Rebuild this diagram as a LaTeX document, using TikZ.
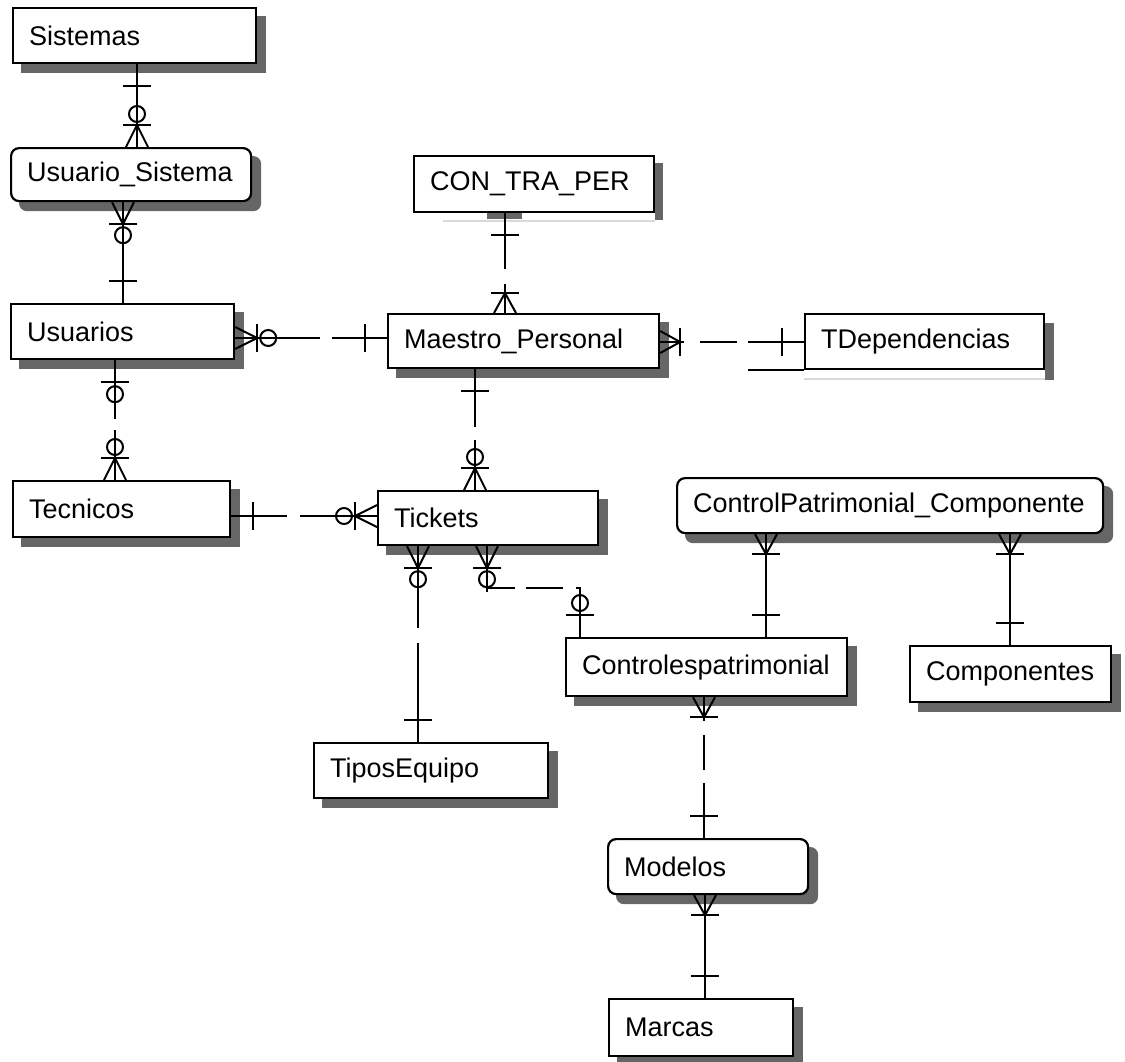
\documentclass[tikz,border=0pt]{standalone}
\usepackage{fontspec}
\setmainfont{Liberation Sans}
\usetikzlibrary{backgrounds}

\tikzset{
  rel/.style={line width=1pt},
  ent/.style={draw, line width=1.1pt, fill=white, anchor=north west,
    inner xsep=8pt, inner ysep=0pt, align=left,
    font=\fontsize{13.5pt}{16pt}\selectfont},
  dep/.style={ent, rounded corners=4pt},
  shd/.style={fill=black!60},
  % cardinality marks, drawn pointing away from the entity
  pics/one/.style={code={
    \draw[rel] (0,0) -- (30,0);
    \draw[rel] (22,-14) -- (22,14);}},
  pics/zeroone/.style={code={
    \draw[rel] (0,0) -- (44,0);
    \draw[rel] (22,-14) -- (22,14);
    \draw[rel] (34,0) circle[radius=4pt];}},
  pics/onemany/.style={code={
    \draw[rel] (0,-11) -- (20,0) -- (0,11);
    \draw[rel] (0,0) -- (24,0);
    \draw[rel] (20,-14) -- (20,14);}},
  pics/zeromany/.style={code={
    \draw[rel] (0,-11) -- (22,0) -- (0,11);
    \draw[rel] (0,0) -- (46,0);
    \draw[rel] (22,-14) -- (22,14);
    \draw[rel] (33,0) circle[radius=4pt];}},
}

\begin{document}
\begin{tikzpicture}[x=0.5pt,y=-0.5pt]
\useasboundingbox (0,0) rectangle (1125,1061);

% entities
\node[ent, text width=105.5pt, minimum height=27.5pt] (Sistemas) at (12,7) {Sistemas};
\node[dep, text width=104pt, minimum height=26.5pt] (UsuSis) at (10,147) {Usuario\_Sistema};
\node[ent, text width=104pt, minimum height=28pt] (CTP) at (413,155) {CON\_TRA\_PER};
\node[ent, text width=95.5pt, minimum height=27.5pt] (Usuarios) at (10,303) {Usuarios};
\node[ent, text width=119.5pt, minimum height=27pt] (Maestro) at (387,313) {Maestro\_Personal};
\node[ent, text width=103.5pt, minimum height=27.5pt] (TDep) at (804,313) {TDependencias};
\node[ent, text width=92.5pt, minimum height=28pt] (Tecnicos) at (12,480) {Tecnicos};
\node[ent, text width=94pt, minimum height=27pt] (Tickets) at (377,490) {Tickets};
\node[dep, text width=197pt, minimum height=27.5pt] (CPC) at (676,477) {ControlPatrimonial\_Componente};
\node[ent, text width=124.5pt, minimum height=29pt] (Controlesp) at (565,637) {Controlespatrimonial};
\node[ent, text width=84.5pt, minimum height=28pt] (Componentes) at (909,645) {Componentes};
\node[ent, text width=101pt, minimum height=27.5pt] (TiposEquipo) at (313,742) {TiposEquipo};
\node[dep, text width=84pt, minimum height=27.5pt] (Modelos) at (607,838) {Modelos};
\node[ent, text width=76pt, minimum height=28.5pt] (Marcas) at (608,998) {Marcas};

% drop shadows
\begin{scope}[on background layer]
  \foreach \n in {Sistemas,Usuarios,Maestro,Tecnicos,Tickets,Controlesp,Componentes,TiposEquipo,Marcas}
    \fill[shd] ([shift={(9,9)}]\n.north west) rectangle ([shift={(9,9)}]\n.south east);
  \foreach \n in {UsuSis,CPC,Modelos}
    \fill[shd, rounded corners=4pt] ([shift={(9,9)}]\n.north west) rectangle ([shift={(9,9)}]\n.south east);
  \fill[shd] ([shift={(0,8)}]CTP.north east) rectangle ([shift={(8,7)}]CTP.south east);
  \fill[shd] ([shift={(74,0)}]CTP.south west) rectangle ([shift={(109,6)}]CTP.south west);
  \draw[black!15, line width=1.2pt] ([shift={(30,8)}]CTP.south west) -- ([shift={(0,8)}]CTP.south east);
  \fill[shd] ([shift={(0,10)}]TDep.north east) rectangle ([shift={(9,10)}]TDep.south east);
  \draw[black!15, line width=1.2pt] ([shift={(0,9)}]TDep.south west) -- ([shift={(0,9)}]TDep.south east);
\end{scope}
\draw[line width=1.1pt] (TDep.south west) -- ++(-56,0);

% attachment columns and rows
\coordinate (xA) at (137,0);
\coordinate (xB) at (123,0);
\coordinate (xC) at (115,0);
\coordinate (yD) at (0,338);
\coordinate (xE) at (505,0);
\coordinate (yF) at (0,342);
\coordinate (xG) at (475,0);
\coordinate (yH) at (0,516);
\coordinate (xI) at (418,0);
\coordinate (xJ) at (487,0);
\coordinate (jbend) at (580,588);
\coordinate (xK) at (766,0);
\coordinate (xL) at (1010,0);
\coordinate (xM) at (704,0);
\coordinate (xN) at (705,0);

% relationships
\draw[rel] (Sistemas.south -| xA) -- (UsuSis.north -| xA);
\pic[rotate=-90] at (Sistemas.south -| xA) {one};
\pic[rotate=90] at (UsuSis.north -| xA) {zeromany};

\draw[rel] (UsuSis.south -| xB) -- (Usuarios.north -| xB);
\pic[rotate=-90] at (UsuSis.south -| xB) {zeromany};
\pic[rotate=90] at (Usuarios.north -| xB) {one};

\draw[rel, dash pattern=on 29.5pt off 5.5pt on 40pt] (Usuarios.south -| xC) -- (Tecnicos.north -| xC);
\pic[rotate=-90] at (Usuarios.south -| xC) {zeroone};
\pic[rotate=90] at (Tecnicos.north -| xC) {zeromany};

\draw[rel, dash pattern=on 42.5pt off 6pt on 40pt] (Usuarios.east |- yD) -- (Maestro.west |- yD);
\pic at (Usuarios.east |- yD) {zeromany};
\pic[rotate=180] at (Maestro.west |- yD) {one};

\draw[rel, dash pattern=on 28pt off 7.5pt on 30pt] (CTP.south -| xE) -- (Maestro.north -| xE);
\pic[rotate=-90] at (CTP.south -| xE) {one};
\pic[rotate=90] at (Maestro.north -| xE) {onemany};

\draw[rel, dash pattern=on 28pt off 5.5pt on 18.5pt off 20pt] (TDep.west |- yF) -- (Maestro.east |- yF);
\pic at (Maestro.east |- yF) {onemany};
\pic[rotate=180] at (TDep.west |- yF) {one};

\draw[rel, dash pattern=on 29pt off 6.5pt on 40pt] (Maestro.south -| xG) -- (Tickets.north -| xG);
\pic[rotate=-90] at (Maestro.south -| xG) {one};
\pic[rotate=90] at (Tickets.north -| xG) {zeromany};

\draw[rel, dash pattern=on 28pt off 6.5pt on 45pt] (Tecnicos.east |- yH) -- (Tickets.west |- yH);
\pic at (Tecnicos.east |- yH) {one};
\pic[rotate=180] at (Tickets.west |- yH) {zeromany};

\draw[rel, dash pattern=on 41pt off 7.5pt on 60pt] (Tickets.south -| xI) -- (TiposEquipo.north -| xI);
\pic[rotate=-90] at (Tickets.south -| xI) {zeromany};
\pic[rotate=90] at (TiposEquipo.north -| xI) {one};

\draw[rel, dash pattern=on 35pt off 5.5pt on 18.5pt off 6.5pt on 40pt] (Tickets.south -| xJ) |- (jbend) -- (Controlesp.north -| jbend);
\pic[rotate=-90] at (Tickets.south -| xJ) {zeromany};
\pic[rotate=90] at (Controlesp.north -| jbend) {zeroone};

\draw[rel] (CPC.south -| xK) -- (Controlesp.north -| xK);
\pic[rotate=-90] at (CPC.south -| xK) {onemany};
\pic[rotate=90] at (Controlesp.north -| xK) {one};

\draw[rel] (CPC.south -| xL) -- (Componentes.north -| xL);
\pic[rotate=-90] at (CPC.south -| xL) {onemany};
\pic[rotate=90] at (Componentes.north -| xL) {one};

\draw[rel, dash pattern=on 27.5pt off 6.5pt on 17.5pt off 20pt] (Modelos.north -| xM) -- (Controlesp.south -| xM);
\pic[rotate=-90] at (Controlesp.south -| xM) {onemany};
\pic[rotate=90] at (Modelos.north -| xM) {one};

\draw[rel] (Modelos.south -| xN) -- (Marcas.north -| xN);
\pic[rotate=-90] at (Modelos.south -| xN) {onemany};
\pic[rotate=90] at (Marcas.north -| xN) {one};
\end{tikzpicture}
\end{document}
